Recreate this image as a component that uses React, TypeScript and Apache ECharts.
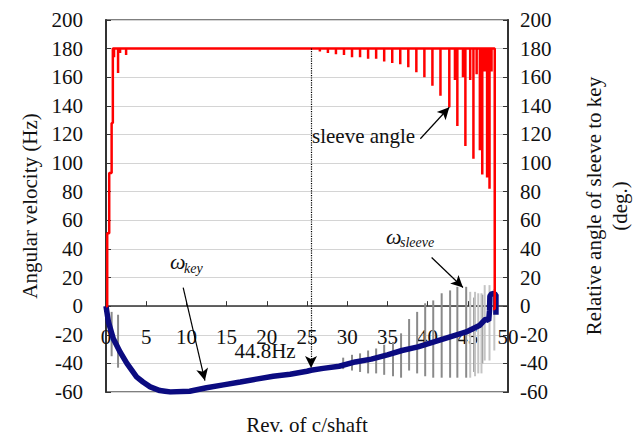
import React, { useEffect, useRef } from "react";
import * as echarts from "echarts";

// ---- data ----
// x-axis: revolutions of the countershaft
const xTicks = [0, 5, 10, 15, 20, 25, 30, 35, 40, 45, 50];
const yMin = -60;
const yMax = 200;

// omega_key (Hz), thick navy curve
const keyRev = [0, 0.3, 0.9, 1.75, 2.6, 3.8, 4.6, 5.5, 6.7, 8, 10.4, 12.5, 14.6, 16.7, 18.7, 20.8, 22.9, 25, 25.5, 27, 29, 31, 33, 35, 36.8, 38.8, 40.8, 42.8, 44.8, 46.5, 47.2, 47.6, 47.7, 47.75, 48.0, 48.5, 48.5];
const keyHz = [0, -11, -22.6, -32, -40, -49.4, -53, -56.4, -59, -60, -59.5, -57, -55, -53, -51, -49, -47.6, -45.5, -44.8, -43.5, -42, -39, -37, -34, -31, -28.5, -25, -21.5, -18, -13.3, -9, -10, -3, 7, 9, 8, -6];

// omega_sleeve (Hz): oscillation swings, dark grey
const sleeveRevDark = [0.7, 1.5, 29.5, 30.6, 31.6, 32.6, 33.6, 34.6, 35.7, 36.7, 37.7, 38.7, 39.7, 40.7, 41.75, 42.8, 43.7, 44.8, 45.8, 46.8];
const sleeveTopDark = [-4, -6, -36, -34, -33, -31, -29.6, -27, -25, -19, -9, -4, 2, 4, 9, 11, 13.5, 13.5, 6, 8];
const sleeveBottomDark = [-35, -43, -44, -45, -46, -47, -47, -48, -49, -50, -45, -47, -49, -50, -50, -50, -50, -50, -46, -40];
// omega_sleeve (Hz): light grey swings near the end
const sleeveRevLight = [45.3, 45.9, 46.3, 46.7, 47.1, 47.7, 48.3];
const sleeveTopLight = [10, 10, 9, 9, 14.7, 14.7, 12];
const sleeveBottomLight = [-50, -49, -47, -47, -38, -38, -31];

// relative angle of sleeve to key (deg)
const angleRiseRev = [0, 0.15, 0.15, 0.4, 0.4, 0.7, 0.7, 0.85, 0.85];
const angleRiseDeg = [0, 0, 51, 51, 93, 93, 128, 128, 180];
const angleDipRev = [1.0, 1.5, 1.75, 2.5, 26.6, 27.6, 28.6, 29.6, 30.6, 31.6, 32.6, 33.6, 34.6, 35.6, 36.6, 37.6, 38.6, 39.6, 40.6, 41.6, 42.7, 43.4, 43.7, 44.4, 44.7, 45.3, 45.7, 46.1, 46.5, 46.8, 47.1, 47.4, 47.7, 47.95];
const angleDipDeg = [174, 163, 177, 175.5, 178, 177, 176, 175.5, 174, 174, 173, 173, 171, 170, 169, 167, 163.5, 160, 154, 147, 139, 158, 126, 160, 112, 158, 103, 162, 109, 92, 164, 90, 82, 164];
const angleEndRev = [48.35, 48.35, 48.15];
const angleEndDeg = [180, -2, -2];
const angleTop = 180;

// marker of 44.8 Hz at rev 25.5
const markerRev = 25.5;
const markerHz = -44.8;

const FONT = '"Liberation Serif", "Times New Roman", Times, serif';

const GRID_TOP = 20;
const GRID_H = 372;

export default function App() {
  const ref = useRef<HTMLDivElement>(null);

  useEffect(() => {
    if (!ref.current) return;
    const chart = echarts.init(ref.current, undefined, { renderer: "svg" });

    const keyData = keyRev.map((r, i) => [r, keyHz[i]]);
    const angleData: number[][] = angleRiseRev.map((r, i) => [r, angleRiseDeg[i]]);
    angleDipRev.forEach((r, i) => {
      angleData.push([r, angleTop], [r, angleDipDeg[i]], [r, angleTop]);
    });
    angleEndRev.forEach((r, i) => angleData.push([r, angleEndDeg[i]]));

    const dark = sleeveRevDark.map((r, i) => [r, sleeveTopDark[i], sleeveBottomDark[i]]);
    const light = sleeveRevLight.map((r, i) => [r, sleeveTopLight[i], sleeveBottomLight[i]]);

    const swing = (color: string) => (params: any, api: any) => {
      const p1 = api.coord([api.value(0), api.value(1)]);
      const p2 = api.coord([api.value(0), api.value(2)]);
      return {
        type: "line",
        shape: { x1: p1[0], y1: p1[1], x2: p2[0], y2: p2[1] },
        style: { stroke: color, lineWidth: 2 },
      };
    };

    // x axis sits on y = 0: shift it up from the bottom of the grid
    const zeroOffset = -((0 - yMin) / (yMax - yMin)) * GRID_H;

    const labelStyle = { fontSize: 21, fontFamily: FONT, color: "#111" };
    const txt = (text: string, x: number, y: number, extra: any = {}) => ({
      type: "text",
      x,
      y,
      rotation: extra.rotation || 0,
      style: {
        text,
        fontSize: extra.fontSize || 21,
        fontFamily: FONT,
        fontStyle: extra.italic ? "italic" : "normal",
        fill: "#111",
        align: extra.align || "center",
        verticalAlign: "middle",
      },
      z: 100,
    });

    const option: any = {
      animation: false,
      backgroundColor: "#ffffff",
      grid: {
        left: 106,
        top: GRID_TOP,
        width: 402,
        height: GRID_H,
        show: true,
        borderColor: "#555",
        borderWidth: 1.5,
        backgroundColor: "transparent",
      },
      xAxis: {
        type: "value",
        position: "bottom",
        offset: zeroOffset,
        min: xTicks[0],
        max: xTicks[xTicks.length - 1],
        interval: xTicks[1] - xTicks[0],
        axisLine: { onZero: false, lineStyle: { color: "#333", width: 1.5 } },
        axisTick: { show: true, inside: true, length: 5, lineStyle: { color: "#333" } },
        axisLabel: { ...labelStyle, margin: 20 },
        splitLine: { show: false },
      },
      yAxis: [
        {
          type: "value",
          min: yMin,
          max: yMax,
          interval: 20,
          axisLine: { show: true, onZero: false, lineStyle: { color: "#333", width: 2 } },
          axisTick: { show: true, inside: true, length: 5, lineStyle: { color: "#333" } },
          axisLabel: { ...labelStyle, margin: 23 },
          splitLine: { show: true, lineStyle: { color: "#d4d4d4", width: 1 } },
        },
        {
          type: "value",
          position: "right",
          min: yMin,
          max: yMax,
          interval: 20,
          axisLine: { show: true, onZero: false, lineStyle: { color: "#333", width: 2 } },
          axisTick: { show: true, inside: true, length: 5, lineStyle: { color: "#333" } },
          axisLabel: { ...labelStyle, margin: 12 },
          splitLine: { show: false },
        },
      ],
      series: [
        {
          type: "custom",
          name: "sleeve-dark",
          renderItem: swing("#8a8a8a"),
          encode: { x: 0, y: [1, 2] },
          data: dark,
          z: 2,
        },
        {
          type: "custom",
          name: "sleeve-light",
          renderItem: swing("#c4c4c4"),
          encode: { x: 0, y: [1, 2] },
          data: light,
          z: 2,
        },
        {
          type: "line",
          name: "omega_key",
          data: keyData,
          showSymbol: false,
          lineStyle: { color: "#0b0b80", width: 5.5 },
          itemStyle: { color: "#0b0b80" },
          z: 3,
        },
        {
          type: "line",
          name: "sleeve angle",
          yAxisIndex: 1,
          data: angleData,
          showSymbol: false,
          lineStyle: { color: "#ff0000", width: 2.5 },
          itemStyle: { color: "#ff0000" },
          z: 4,
          markLine: {
            silent: true,
            symbol: ["none", "arrow"],
            symbolSize: [9, 12],
            label: { show: false },
            lineStyle: { color: "#000", width: 1.2, type: "solid" },
            data: [
              [
                { coord: [markerRev, angleTop], lineStyle: { type: "dotted", width: 1.2, color: "#000" } },
                { coord: [markerRev, markerHz + 1.5] },
              ],
              [{ coord: [39.1, 117] }, { coord: [42.7, 139] }],
              [{ coord: [9.6, 13] }, { coord: [12.3, -52] }],
              [{ coord: [40.5, 34] }, { coord: [44.4, 13] }],
            ],
          },
        },
      ],
      graphic: [
        txt("sleeve angle", 312, 136, { align: "left" }),
        txt("44.8Hz", 265, 351),
        txt("ω", 170, 261, { italic: true, align: "left", fontSize: 22 }),
        txt("key", 184, 268, { italic: true, align: "left", fontSize: 14 }),
        txt("ω", 386, 236, { italic: true, align: "left", fontSize: 22 }),
        txt("sleeve", 400, 242, { italic: true, align: "left", fontSize: 14 }),
        txt("Angular velocity (Hz)", 30, 206, { rotation: Math.PI / 2 }),
        txt("Relative angle of sleeve to key", 594, 206, { rotation: Math.PI / 2 }),
        txt("(deg.)", 620, 206, { rotation: Math.PI / 2 }),
        txt("Rev. of c/shaft", 307, 425),
      ],
    };

    chart.setOption(option);
    return () => chart.dispose();
  }, []);

  return (
    <div
      ref={ref}
      style={{ position: "fixed", left: 0, top: 0, width: 634, height: 437, background: "#fff" }}
    />
  );
}
